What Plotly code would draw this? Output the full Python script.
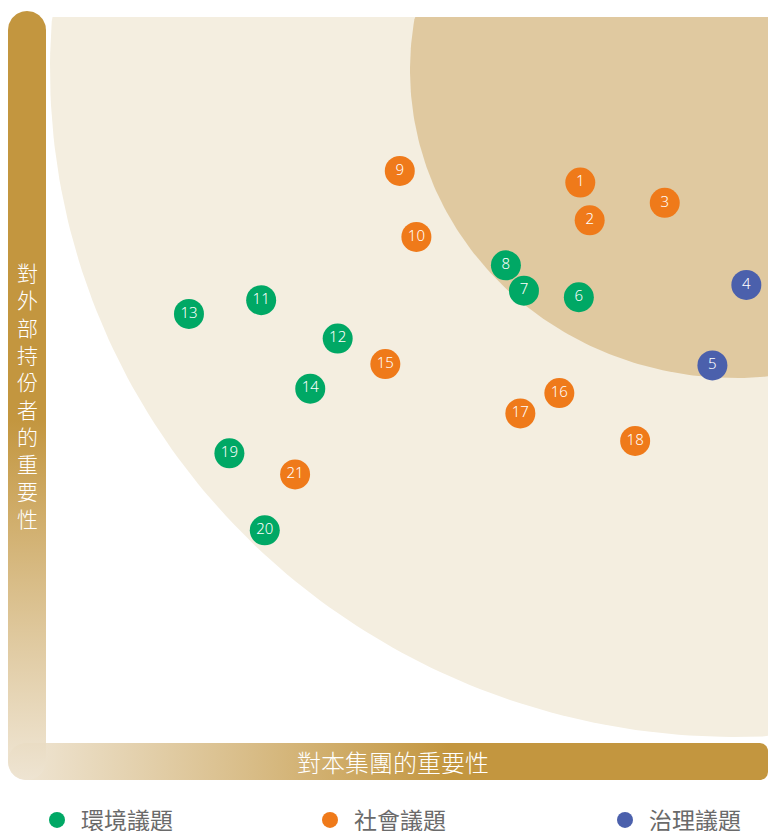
import numpy as np
import plotly.graph_objects as go

# ---------------- data (importance scores, 0-100) ----------------
categories = ["環境議題", "社會議題", "治理議題"]
cat_colors = ["#00A865", "#EF7A1A", "#4B60AC"]

env_ids = ["6", "7", "8", "11", "12", "13", "14", "19", "20"]
env_x = [73.8, 66.2, 63.7, 29.8, 40.4, 19.8, 36.6, 25.4, 30.3]
env_y = [61.4, 62.3, 65.8, 61.0, 55.7, 59.1, 48.8, 39.9, 29.3]

soc_ids = ["1", "2", "3", "9", "10", "15", "16", "17", "18", "21"]
soc_x = [74.0, 75.3, 85.7, 49.0, 51.3, 47.0, 71.1, 65.7, 81.6, 34.5]
soc_y = [77.2, 72.0, 74.4, 78.8, 69.7, 52.2, 48.2, 45.4, 41.6, 37.0]

gov_ids = ["4", "5"]
gov_x = [97.0, 92.3]
gov_y = [63.1, 52.0]

x_title = "對本集團的重要性"
y_title = "對外部持份者的重要性"

# ---------------- geometry helpers (pixel -> score) ----------------
W, H = 768, 831
X0P, X1P = 46, 768      # pixel x of score 0 / 100
Y0P, Y1P = 743, 17      # pixel y of score 0 / 100
SX = (X1P - X0P) / 100.0
SY = (Y0P - Y1P) / 100.0


def sx(p):
    return (np.asarray(p, dtype=float) - X0P) / SX


def sy(p):
    return (Y0P - np.asarray(p, dtype=float)) / SY


def rrect(x0, y0, x1, y1, rtl, rtr, rbr, rbl, n=24):
    pts = []
    def arc(cx, cy, r, a0, a1):
        for t in np.linspace(a0, a1, n):
            pts.append((cx + r * np.cos(t), cy + r * np.sin(t)))
    arc(x1 - rtr, y0 + rtr, rtr, -np.pi / 2, 0)
    arc(x1 - rbr, y1 - rbr, rbr, 0, np.pi / 2)
    arc(x0 + rbl, y1 - rbl, rbl, np.pi / 2, np.pi)
    arc(x0 + rtl, y0 + rtl, rtl, np.pi, 1.5 * np.pi)
    pts.append(pts[0])
    a = np.array(pts)
    return sx(a[:, 0]), sy(a[:, 1])


def ellipse(cx, cy, a, b, ytop, xright, n=400):
    t = np.linspace(0, 2 * np.pi, n)
    x = cx + a * np.cos(t)
    y = cy + b * np.sin(t)
    x = np.minimum(x, xright)
    y = np.maximum(y, ytop)
    return sx(x), sy(y)


fig = go.Figure()

# background zones
bx, by = ellipse(735, 69, 685, 668, 17, 768)
fig.add_trace(go.Scatter(x=bx, y=by, fill="toself", fillcolor="#F4EEE0",
                         line=dict(width=0), mode="lines", hoverinfo="skip",
                         showlegend=False))
ix, iy = ellipse(735, 70, 325, 308, 17, 768)
fig.add_trace(go.Scatter(x=ix, y=iy, fill="toself", fillcolor="#E0C9A0",
                         line=dict(width=0), mode="lines", hoverinfo="skip",
                         showlegend=False))

gold = "#C3963F"
pale = "rgba(238,228,210,0.9)"

# horizontal axis bar
hx, hy = rrect(8, 743, 768, 780, 18, 8, 8, 18)
fig.add_trace(go.Scatter(x=hx, y=hy, fill="toself", mode="lines",
                         line=dict(width=0), hoverinfo="skip", showlegend=False,
                         fillgradient=dict(type="horizontal",
                                           start=float(sx(8)), stop=float(sx(768)),
                                           colorscale=[[0, pale],
                                                       [(450 - 8) / 760, gold],
                                                       [1, gold]])))
# vertical axis bar
vx, vy = rrect(8, 11, 46, 780, 19, 19, 19, 19)
fig.add_trace(go.Scatter(x=vx, y=vy, fill="toself", mode="lines",
                         line=dict(width=0), hoverinfo="skip", showlegend=False,
                         fillgradient=dict(type="vertical",
                                           start=float(sy(780)), stop=float(sy(11)),
                                           colorscale=[[0, pale],
                                                       [(780 - 420) / 769, gold],
                                                       [1, gold]])))

# data markers
groups = [(env_ids, env_x, env_y), (soc_ids, soc_x, soc_y), (gov_ids, gov_x, gov_y)]
legend_ids = ["legend", "legend2", "legend3"]
for (ids, xs, ys), name, col, lg in zip(groups, categories, cat_colors, legend_ids):
    fig.add_trace(go.Scatter(x=xs, y=ys, mode="markers", name=name, legend=lg,
                             marker=dict(size=30, color=col, line=dict(width=0)),
                             hovertext=ids, hoverinfo="text+name"))
for (ids, xs, ys) in groups:
    fig.add_trace(go.Scatter(x=xs, y=ys, mode="text", text=ids,
                             textposition="middle center",
                             textfont=dict(family="Noto Sans, Open Sans, sans-serif",
                                           size=15, color="white", weight=300),
                             hoverinfo="skip", showlegend=False))

annotations = [
    dict(x=float(sx(393)), y=float(sy(761)), xref="x", yref="y", text=x_title,
         showarrow=False, xanchor="center", yanchor="middle",
         font=dict(family="Noto Sans CJK TC", size=24, color="white", weight=300)),
    dict(x=float(sx(27)), y=float(sy(395)), xref="x", yref="y",
         text="<br>".join(list(y_title)), showarrow=False,
         xanchor="center", yanchor="middle",
         font=dict(family="Noto Sans CJK TC", size=21, color="white", weight=300)),
]


def legend_at(px):
    return dict(orientation="h", x=(px - 24) / W, xanchor="left",
                y=(H - 820) / H, yanchor="middle",
                itemsizing="trace", itemwidth=38,
                font=dict(family="Noto Sans CJK TC", size=23, color="#6a6a6a"),
                bgcolor="rgba(0,0,0,0)")


fig.update_layout(
    width=W, height=H,
    margin=dict(l=0, r=0, t=0, b=0, autoexpand=False),
    paper_bgcolor="white", plot_bgcolor="white",
    xaxis=dict(range=[float(sx(0)), float(sx(W))], visible=False, fixedrange=True),
    yaxis=dict(range=[float(sy(H)), float(sy(0))], visible=False, fixedrange=True),
    annotations=annotations,
    showlegend=True,
    legend=legend_at(57),
    legend2=legend_at(330),
    legend3=legend_at(625),
)

fig.write_html("out.html")
